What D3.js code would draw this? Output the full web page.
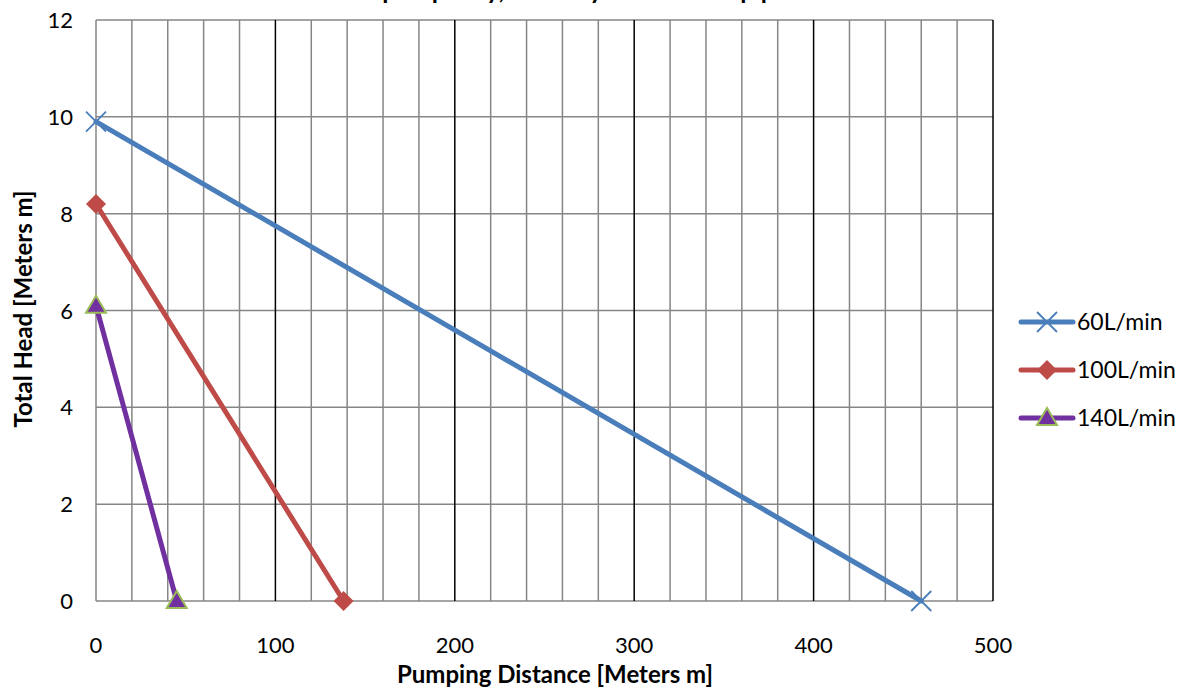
<!DOCTYPE html>
<html>
<head>
<meta charset="utf-8">
<script src="https://cdn.jsdelivr.net/npm/d3@7"></script>
<style>
body { margin: 0; background: #fff; }
svg { font-family: Lato, "Open Sans", sans-serif; }
</style>
</head>
<body>
<div id="chart"></div>
<script>
// series
var seriesNames = ["60L/min", "100L/min", "140L/min"];
var distance60 = [0, 460];
var head60 = [9.9, 0];
var distance100 = [0, 138];
var head100 = [8.2, 0];
var distance140 = [0, 45];
var head140 = [6.1, 0];
var xTicks = [0, 100, 200, 300, 400, 500];
var yTicks = [0, 2, 4, 6, 8, 10, 12];

var W = 1190, H = 692;
var plotLeft = 96, plotRight = 993, plotTop = 20, plotBottom = 601;

var svg = d3.select("#chart").append("svg").attr("width", W).attr("height", H);

var x = d3.scaleLinear().domain([0, 500]).range([plotLeft, plotRight]);
var y = d3.scaleLinear().domain([0, 12]).range([plotBottom, plotTop]);

// title, mostly cut off at top edge in the original
svg.append("text")
    .attr("x", 560)
    .attr("y", -1)
    .attr("text-anchor", "middle")
    .attr("font-size", "25px")
    .attr("font-weight", "bold")
    .text("Pump Capacity, Head by Distance of pipe");

// vertical grid: minor every 20, major every 100
var minor = d3.range(20, 500, 20).filter(function(d) { return d % 100 != 0; });
svg.selectAll("line.vminor").data(minor).enter().append("line")
    .attr("class", "vminor")
    .attr("x1", function(d) { return x(d); })
    .attr("x2", function(d) { return x(d); })
    .attr("y1", plotTop).attr("y2", plotBottom)
    .attr("stroke", "#868686").attr("stroke-width", 1.5);

svg.selectAll("line.hgrid").data(yTicks).enter().append("line")
    .attr("class", "hgrid")
    .attr("x1", plotLeft).attr("x2", plotRight)
    .attr("y1", function(d) { return y(d); })
    .attr("y2", function(d) { return y(d); })
    .attr("stroke", "#868686").attr("stroke-width", 1.5);

svg.selectAll("line.vmajor").data([100, 200, 300, 400, 500]).enter().append("line")
    .attr("class", "vmajor")
    .attr("x1", function(d) { return x(d); })
    .attr("x2", function(d) { return x(d); })
    .attr("y1", plotTop).attr("y2", plotBottom)
    .attr("stroke", "#000").attr("stroke-width", 1.5);

// left axis line
svg.append("line")
    .attr("x1", plotLeft).attr("x2", plotLeft)
    .attr("y1", plotTop).attr("y2", plotBottom)
    .attr("stroke", "#868686").attr("stroke-width", 1.5);

// tick labels
svg.selectAll("text.xt").data(xTicks).enter().append("text")
    .attr("class", "xt")
    .attr("x", function(d) { return x(d); })
    .attr("y", 653)
    .attr("text-anchor", "middle")
    .attr("font-size", "22px")
    .text(function(d) { return d; });

svg.selectAll("text.yt").data(yTicks).enter().append("text")
    .attr("class", "yt")
    .attr("x", 73)
    .attr("y", function(d) { return y(d) + 8; })
    .attr("text-anchor", "end")
    .attr("font-size", "22px")
    .text(function(d) { return d; });

// axis titles
svg.append("text")
    .attr("x", 555)
    .attr("y", 683)
    .attr("text-anchor", "middle")
    .attr("font-size", "24px")
    .attr("font-weight", "bold")
    .text("Pumping Distance [Meters m]");

svg.append("text")
    .attr("transform", "translate(32,309) rotate(-90)")
    .attr("text-anchor", "middle")
    .attr("font-size", "24px")
    .attr("font-weight", "bold")
    .text("Total Head [Meters m]");

var series = [
    { name: seriesNames[0], xs: distance60, ys: head60, color: "#4A7EBB", marker: "x" },
    { name: seriesNames[1], xs: distance100, ys: head100, color: "#BE4B48", marker: "diamond" },
    { name: seriesNames[2], xs: distance140, ys: head140, color: "#7030A0", marker: "triangle" }
];

var line = d3.line().x(function(d) { return x(d[0]); }).y(function(d) { return y(d[1]); });

function drawMarker(g, s, cx, cy) {
    if (s.marker == "x") {
        g.append("path")
            .attr("d", "M" + (cx - 10) + "," + (cy - 10) + "L" + (cx + 10) + "," + (cy + 10) +
                       "M" + (cx - 10) + "," + (cy + 10) + "L" + (cx + 10) + "," + (cy - 10))
            .attr("stroke", s.color).attr("stroke-width", 1.8).attr("fill", "none");
    } else if (s.marker == "diamond") {
        g.append("path")
            .attr("d", "M" + cx + "," + (cy - 10) + "L" + (cx + 10) + "," + cy + "L" + cx + "," + (cy + 10) + "L" + (cx - 10) + "," + cy + "Z")
            .attr("fill", s.color);
    } else {
        g.append("path")
            .attr("d", "M" + cx + "," + (cy - 10) + "L" + (cx + 10) + "," + (cy + 7) + "L" + (cx - 10) + "," + (cy + 7) + "Z")
            .attr("fill", s.color).attr("stroke", "#9BBB59").attr("stroke-width", 2);
    }
}

series.forEach(function(s) {
    var pts = s.xs.map(function(d, i) { return [d, s.ys[i]]; });
    var g = svg.append("g");
    g.append("path")
        .attr("d", line(pts))
        .attr("fill", "none")
        .attr("stroke", s.color)
        .attr("stroke-width", 5)
        .attr("stroke-linecap", "round");
    pts.forEach(function(p) { drawMarker(g, s, x(p[0]), y(p[1])); });
});

// legend
series.forEach(function(s, i) {
    var ly = 322 + i * 48;
    var g = svg.append("g");
    g.append("line")
        .attr("x1", 1021).attr("x2", 1073)
        .attr("y1", ly).attr("y2", ly)
        .attr("stroke", s.color).attr("stroke-width", 5)
        .attr("stroke-linecap", "round");
    drawMarker(g, s, 1047, ly);
    g.append("text")
        .attr("x", 1077)
        .attr("y", ly + 8)
        .attr("font-size", "23px")
        .text(s.name);
});
</script>
</body>
</html>
